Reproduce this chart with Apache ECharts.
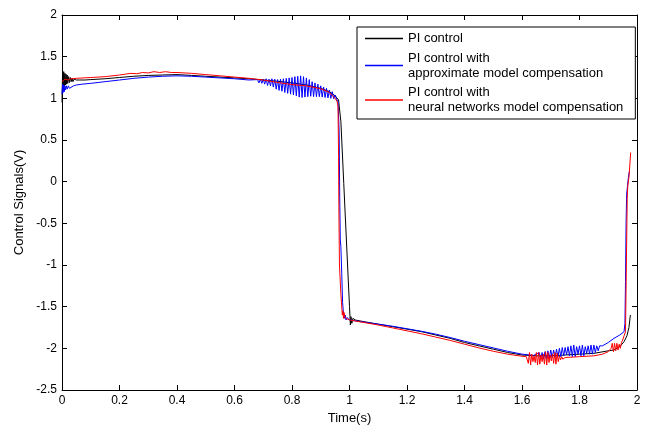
<!DOCTYPE html>
<html>
<head>
<meta charset="utf-8">
<script src="https://cdn.jsdelivr.net/npm/echarts@6/dist/echarts.min.js"></script>
<style>
html,body{margin:0;padding:0;background:#fff;}
#chart{width:662px;height:433px;}
</style>
</head>
<body>
<div id="chart"></div>
<script>
// ---- Data ----
var seriesNames = [
  'PI control',
  'PI control with\napproximate model compensation',
  'PI control with\nneural networks model compensation'
];
var seriesColors = ['#000000', '#0000ff', '#ff0000'];

// PI control (black)
var piT = [0, 0.002, 0.004, 0.006, 0.008, 0.010, 0.012, 0.014, 0.016, 0.018, 0.020, 0.023, 0.026, 0.029, 0.032, 0.035, 0.038, 0.042, 0.046, 0.05, 0.06, 0.08, 0.1, 0.15, 0.2, 0.25, 0.3, 0.35, 0.4, 0.45, 0.5, 0.55, 0.6, 0.65, 0.7, 0.75, 0.8, 0.85, 0.9, 0.93, 0.95, 0.962, 0.97, 0.98, 0.99, 1.0, 1.003, 1.005, 1.008, 1.012, 1.02, 1.05, 1.1, 1.15, 1.2, 1.25, 1.3, 1.35, 1.4, 1.45, 1.5, 1.55, 1.6, 1.65, 1.7, 1.75, 1.8, 1.85, 1.9, 1.92, 1.94, 1.955, 1.965, 1.972, 1.977];
var piV = [0.95, 1.33, 1.12, 1.32, 1.15, 1.30, 1.16, 1.29, 1.17, 1.28, 1.18, 1.26, 1.19, 1.25, 1.20, 1.24, 1.20, 1.23, 1.21, 1.22, 1.22, 1.22, 1.225, 1.235, 1.25, 1.265, 1.275, 1.28, 1.285, 1.275, 1.265, 1.255, 1.245, 1.235, 1.22, 1.205, 1.185, 1.16, 1.12, 1.08, 1.03, 0.98, 0.72, -0.02, -0.76, -1.5, -1.72, -1.62, -1.7, -1.64, -1.66, -1.68, -1.71, -1.74, -1.77, -1.8, -1.84, -1.88, -1.93, -1.97, -2.01, -2.05, -2.08, -2.09, -2.09, -2.08, -2.07, -2.06, -2.03, -2.02, -1.98, -1.92, -1.85, -1.75, -1.6];

// PI control with approximate model compensation (blue)
var apT = [0, 0.002, 0.004, 0.006, 0.008, 0.010, 0.012, 0.015, 0.018, 0.022, 0.026, 0.03, 0.04, 0.05, 0.07, 0.1, 0.15, 0.2, 0.25, 0.3, 0.35, 0.4, 0.45, 0.5, 0.55, 0.6, 0.65,
  0.680, 0.685, 0.690, 0.695, 0.700, 0.705, 0.710, 0.715, 0.720, 0.725, 0.730, 0.735, 0.740, 0.745, 0.750, 0.755, 0.760, 0.765, 0.770, 0.775, 0.780, 0.785, 0.790, 0.795,
  0.800, 0.805, 0.810, 0.815, 0.820, 0.825, 0.830, 0.835, 0.840, 0.845, 0.850, 0.855, 0.860, 0.865, 0.870, 0.875, 0.880, 0.885, 0.890, 0.895,
  0.900, 0.905, 0.910, 0.915, 0.920, 0.925, 0.930, 0.935, 0.940, 0.945, 0.950, 0.955,
  0.960, 0.962, 0.964, 0.966, 0.968, 0.970, 0.973, 0.976, 0.979, 0.982, 0.985, 0.988, 0.992, 1.0,
  1.05, 1.1, 1.15, 1.2, 1.25, 1.3, 1.35, 1.4, 1.45, 1.5, 1.55, 1.6, 1.64,
  1.660, 1.665, 1.670, 1.675, 1.680, 1.685, 1.690, 1.695, 1.700, 1.705, 1.710, 1.715, 1.720, 1.725, 1.730, 1.735, 1.740, 1.745, 1.750, 1.755,
  1.760, 1.765, 1.770, 1.775, 1.780, 1.785, 1.790, 1.795, 1.800, 1.805, 1.810, 1.815, 1.820, 1.825, 1.830, 1.835, 1.840, 1.845, 1.850, 1.855, 1.860, 1.865, 1.870,
  1.88, 1.9, 1.92, 1.94, 1.955, 1.958, 1.960, 1.962, 1.964, 1.967, 1.970, 1.973];
var apV = [1.05, 1.17, 1.07, 1.16, 1.08, 1.15, 1.10, 1.15, 1.11, 1.15, 1.12, 1.14, 1.15, 1.16, 1.17, 1.18, 1.20, 1.22, 1.24, 1.255, 1.265, 1.27, 1.265, 1.255, 1.245, 1.235, 1.22,
  1.225, 1.185, 1.23, 1.18, 1.23, 1.17, 1.235, 1.155, 1.23, 1.15, 1.235, 1.135, 1.23, 1.11, 1.225, 1.095, 1.23, 1.085, 1.235, 1.07, 1.24, 1.06, 1.245, 1.05,
  1.25, 1.04, 1.26, 1.03, 1.265, 1.015, 1.27, 1.01, 1.26, 1.015, 1.245, 1.02, 1.225, 1.025, 1.20, 1.02, 1.185, 1.02, 1.17, 1.02,
  1.15, 1.015, 1.135, 1.01, 1.12, 1.005, 1.10, 1.0, 1.08, 0.995, 1.04, 0.99,
  0.96, 0.94, 0.6, -0.2, -0.7, -0.78, -1.1, -1.45, -1.58, -1.64, -1.6, -1.66, -1.63, -1.66,
  -1.685, -1.71, -1.735, -1.765, -1.795, -1.83, -1.87, -1.915, -1.955, -1.995, -2.035, -2.07, -2.085,
  -2.05, -2.12, -2.05, -2.13, -2.04, -2.13, -2.03, -2.12, -2.02, -2.11, -2.02, -2.11, -2.01, -2.10, -2.0, -2.10, -1.99, -2.09, -1.99, -2.08,
  -1.98, -2.09, -1.97, -2.10, -1.96, -2.10, -1.98, -2.07, -1.97, -2.09, -1.96, -2.09, -1.98, -2.06, -1.97, -2.07, -1.96, -2.07, -1.96, -2.05, -1.97, -2.03, -1.97,
  -1.97, -1.93, -1.88, -1.84, -1.80, -1.70, -1.2, -0.5, -0.15, -0.05, 0.05, 0.12];

// PI control with neural networks model compensation (red)
var nnT = [0, 0.01, 0.02, 0.03, 0.05, 0.1, 0.15, 0.2, 0.22, 0.24, 0.26, 0.28, 0.3, 0.32, 0.34, 0.36, 0.38, 0.4, 0.45, 0.5, 0.55, 0.6, 0.65, 0.7, 0.75, 0.8, 0.85, 0.9, 0.93, 0.95, 0.957,
  0.960, 0.962, 0.963, 0.965, 0.970, 0.975, 0.977, 0.979, 0.981, 0.984, 0.99, 1.0,
  1.05, 1.1, 1.15, 1.2, 1.25, 1.3, 1.35, 1.4, 1.45, 1.5, 1.55, 1.6, 1.615,
  1.618, 1.622, 1.626, 1.630, 1.634, 1.638, 1.642, 1.646, 1.650, 1.654, 1.658, 1.662, 1.666, 1.670, 1.674, 1.678,
  1.682, 1.686, 1.690, 1.694, 1.698, 1.702, 1.706, 1.710, 1.714, 1.718, 1.722, 1.726, 1.730, 1.734, 1.738, 1.742,
  1.75, 1.8, 1.85, 1.88, 1.9, 1.91, 1.914, 1.918, 1.922, 1.926, 1.930, 1.934, 1.938, 1.942, 1.946, 1.95, 1.955,
  1.960, 1.963, 1.966, 1.968, 1.972, 1.975, 1.978];
var nnV = [1.20, 1.23, 1.22, 1.235, 1.24, 1.25, 1.26, 1.28, 1.29, 1.30, 1.295, 1.31, 1.305, 1.32, 1.31, 1.32, 1.31, 1.31, 1.30, 1.285, 1.27, 1.255, 1.24, 1.22, 1.19, 1.165, 1.15, 1.115, 1.07, 1.0, 0.96,
  0.9, 0.3, -0.3, -1.0, -1.35, -1.6, -1.55, -1.64, -1.57, -1.63, -1.62, -1.66,
  -1.69, -1.72, -1.755, -1.79, -1.825, -1.865, -1.905, -1.95, -1.995, -2.035, -2.07, -2.095, -2.10,
  -2.08, -2.18, -2.05, -2.20, -2.07, -2.16, -2.09, -2.17, -2.05, -2.20, -2.05, -2.19, -2.08, -2.16, -2.07, -2.19,
  -2.04, -2.20, -2.05, -2.17, -2.08, -2.15, -2.07, -2.18, -2.05, -2.19, -2.06, -2.16, -2.09, -2.14, -2.10, -2.13,
  -2.11, -2.10, -2.09, -2.07, -2.04, -2.0, -1.94, -2.04, -1.94, -2.03, -1.94, -2.02, -1.95, -2.0, -1.93, -1.90, -1.85,
  -1.8, -1.0, -0.2, -0.05, 0.05, 0.2, 0.35];

var xTicks = {min: 0, max: 2, interval: 0.2};
var yTicks = {min: -2.5, max: 2, interval: 0.5};

function pairs(t, v) {
  var out = [];
  for (var i = 0; i < t.length; i++) out.push([t[i], v[i]]);
  return out;
}

var FONT = '"Liberation Sans", Arial, sans-serif';
var chart = echarts.init(document.getElementById('chart'), null, {renderer: 'canvas'});

function axisBase(extra) {
  var base = {
    type: 'value',
    axisLine: {show: true, onZero: false, lineStyle: {color: '#000', width: 1}},
    axisTick: {show: true, inside: true, length: 5, lineStyle: {color: '#000', width: 1}},
    splitLine: {show: false},
    axisLabel: {color: '#000', fontSize: 12, fontFamily: FONT}
  };
  for (var k in extra) base[k] = extra[k];
  return base;
}

var legendData = seriesNames.map(function (n, i) {
  return {name: n, icon: 'rect', itemStyle: {color: seriesColors[i], borderWidth: 0, opacity: 1}};
});

var seriesList = [[piT, piV], [apT, apV], [nnT, nnV]].map(function (d, i) {
  return {
    name: seriesNames[i], type: 'line', data: pairs(d[0], d[1]),
    showSymbol: false, symbol: 'none', color: seriesColors[i],
    lineStyle: {color: seriesColors[i], width: 1},
    itemStyle: {color: seriesColors[i]}, z: 2 + i
  };
});

var option = {
  animation: false,
  backgroundColor: '#fff',
  color: seriesColors,
  grid: {left: 62, right: 25, top: 15, bottom: 43, containLabel: false},
  xAxis: [
    axisBase({position: 'bottom', min: xTicks.min, max: xTicks.max, interval: xTicks.interval,
      axisLabel: {color: '#000', fontSize: 12, fontFamily: FONT, margin: 5},
      name: 'Time(s)', nameLocation: 'middle', nameGap: 22,
      nameTextStyle: {color: '#000', fontSize: 13, fontFamily: FONT}}),
    axisBase({position: 'top', min: xTicks.min, max: xTicks.max, interval: xTicks.interval,
      axisLabel: {show: false}})
  ],
  yAxis: [
    axisBase({position: 'left', min: yTicks.min, max: yTicks.max, interval: yTicks.interval,
      axisLabel: {color: '#000', fontSize: 12, fontFamily: FONT, margin: 5},
      name: 'Control Signals(V)', nameLocation: 'middle', nameGap: 36,
      nameTextStyle: {color: '#000', fontSize: 13, fontFamily: FONT}}),
    axisBase({position: 'right', min: yTicks.min, max: yTicks.max, interval: yTicks.interval,
      axisLabel: {show: false}})
  ],
  legend: {
    left: 357, top: 27,
    orient: 'vertical',
    align: 'left',
    backgroundColor: '#fff',
    borderColor: '#000', borderWidth: 1, borderRadius: 0,
    padding: [4, 12, 4, 8],
    itemGap: 4.5,
    itemWidth: 38, itemHeight: 1.5,
    icon: 'rect',
    selectedMode: false,
    itemStyle: {borderWidth: 0},
    textStyle: {color: '#000', fontSize: 13, lineHeight: 15, fontFamily: FONT},
    data: legendData
  },
  series: seriesList
};
chart.setOption(option);
</script>
</body>
</html>
